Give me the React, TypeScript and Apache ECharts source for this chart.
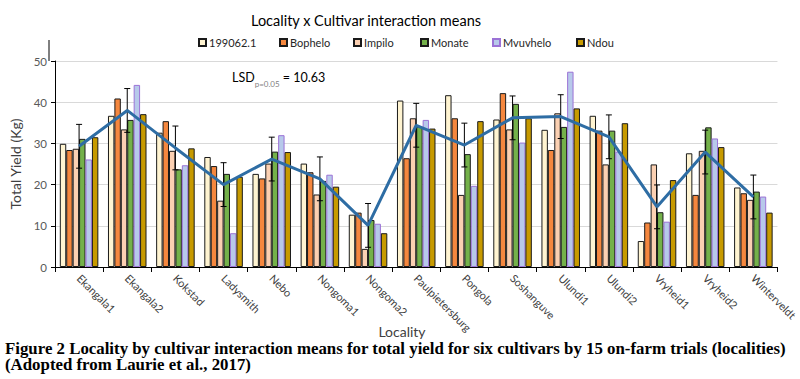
import React, { useEffect, useRef } from 'react';
import * as echarts from 'echarts';

const localities = ['Ekangala1', 'Ekangala2', 'Kokstad', 'Ladysmith', 'Nebo', 'Nongoma1', 'Nongoma2', 'Paulpietersburg', 'Pongola', 'Soshanguve', 'Ulundi1', 'Ulundi2', 'Vryheid1', 'Vryheid2', 'Winterveldt'];
const cultivars = ['199062.1', 'Bophelo', 'Impilo', 'Monate', 'Mvuvhelo', 'Ndou'];
const v199062 = [29.9, 36.7, 32.6, 26.7, 22.6, 25.1, 12.7, 40.4, 41.7, 35.8, 33.3, 36.7, 6.3, 27.6, 19.3];
const bophelo = [28.4, 40.9, 35.4, 24.5, 21.5, 23.0, 13.2, 26.4, 36.1, 42.2, 28.4, 33.1, 10.8, 17.5, 17.9];
const impilo = [28.7, 33.4, 28.2, 16.1, 25.1, 17.6, 4.4, 36.1, 17.5, 33.4, 37.3, 24.9, 24.9, 28.2, 16.3];
const monate = [31.1, 35.7, 23.7, 22.6, 28.0, 20.9, 11.4, 34.1, 27.4, 39.6, 34.0, 33.1, 13.3, 33.9, 18.3];
const mvuvhelo = [26.1, 44.2, 24.7, 8.2, 32.0, 22.4, 10.5, 35.7, 19.7, 30.2, 47.4, 28.0, 11.0, 31.2, 17.1];
const ndou = [31.5, 37.1, 28.8, 21.9, 27.9, 19.5, 8.2, 33.6, 35.4, 36.1, 38.5, 34.9, 21.1, 29.1, 13.2];
const localityMeans = [29.3, 38.0, 28.9, 20.0, 26.2, 21.4, 10.1, 34.4, 29.6, 36.2, 36.5, 31.6, 14.6, 27.9, 17.0];
const lsd = 10.63;
const seriesValues = [v199062, bophelo, impilo, monate, mvuvhelo, ndou];

const fills = ['#FFF4D1', '#F5873E', '#FBD0B2', '#74B14A', '#B7C9EA', '#C79A00'];
const borders = ['#1a1a1a', '#1a1a1a', '#1a1a1a', '#1a1a1a', '#9B72D6', '#1a1a1a'];
const legendLeft = [198, 279, 353, 420, 492, 576];
const FONT = 'Lato';
const captionLines = [
  'Figure 2 Locality by cultivar interaction means for total yield for six cultivars by 15 on-farm trials (localities)',
  '(Adopted from Laurie et al., 2017)',
];

export default function App() {
  const ref = useRef<HTMLDivElement>(null);
  useEffect(() => {
    const chart = echarts.init(ref.current!, null, { renderer: 'svg' });
    const barSeries = cultivars.map((name, k) => ({
      name,
      type: 'bar',
      data: seriesValues[k],
      barGap: '0%',
      barCategoryGap: '20%',
      itemStyle: { color: fills[k], borderColor: borders[k], borderWidth: 1 },
      z: 2,
    }));
    chart.setOption({
      animation: false,
      backgroundColor: '#fff',
      textStyle: { fontFamily: FONT },
      title: {
        text: 'Locality x Cultivar interaction means',
        left: 361,
        top: 8,
        textAlign: 'center',
        textStyle: { fontSize: 14.5, fontWeight: 'normal', color: '#000', fontFamily: FONT },
      },
      legend: cultivars.map((name, k) => ({
        data: [name],
        left: legendLeft[k],
        top: 37,
        icon: 'rect',
        itemWidth: 7,
        itemHeight: 7,
        itemGap: 3,
        padding: 0,
        selectedMode: false,
        textStyle: { fontSize: 11, color: '#262626', fontFamily: FONT, padding: [0, 0, 0, -2] },
      })),
      grid: { left: 49, right: 21, top: 61, bottom: 112, containLabel: false },
      xAxis: {
        type: 'category',
        data: localities,
        axisLine: { lineStyle: { color: '#000', width: 1 } },
        axisTick: { show: true, length: 5, lineStyle: { color: '#000' } },
        axisLabel: { rotate: -45, interval: 0, fontSize: 11, color: '#404040', margin: 9, fontFamily: FONT },
      },
      yAxis: {
        type: 'value',
        min: 0,
        max: 50,
        interval: 10,
        axisLine: { show: true, lineStyle: { color: '#000', width: 1 } },
        axisTick: { show: true, length: 4, lineStyle: { color: '#000' } },
        axisLabel: { fontSize: 11.5, color: '#595959', margin: 8, fontFamily: FONT },
        splitLine: { lineStyle: { color: '#D9D9D9', width: 1 } },
        name: 'Total Yield (Kg)',
        nameLocation: 'middle',
        nameGap: 33,
        nameTextStyle: { fontSize: 14, color: '#404040', fontFamily: FONT },
      },
      series: [
        ...barSeries,
        {
          name: 'LSD',
          type: 'custom',
          data: localityMeans.map((m, i) => [i, m]),
          z: 3,
          renderItem: (params: any, api: any) => {
            const i = api.value(0);
            const m = api.value(1);
            const top = api.coord([i, m + lsd / 2]);
            const bot = api.coord([i, m - lsd / 2]);
            const cap = 3;
            const st = { stroke: '#000', lineWidth: 1 };
            return {
              type: 'group',
              children: [
                { type: 'line', shape: { x1: top[0], y1: top[1], x2: bot[0], y2: bot[1] }, style: st },
                { type: 'line', shape: { x1: top[0] - cap, y1: top[1], x2: top[0] + cap, y2: top[1] }, style: st },
                { type: 'line', shape: { x1: bot[0] - cap, y1: bot[1], x2: bot[0] + cap, y2: bot[1] }, style: st },
              ],
            };
          },
        },
        {
          name: 'Mean',
          type: 'line',
          data: localityMeans,
          symbol: 'none',
          lineStyle: { color: '#2E6DA4', width: 3 },
          itemStyle: { color: '#2E6DA4' },
          z: 4,
        },
      ],
      graphic: [
        { type: 'line', shape: { x1: 49, y1: 40, x2: 49, y2: 61 }, style: { stroke: '#000', lineWidth: 1 } },
        {
          type: 'text',
          x: 402,
          y: 331,
          style: {
            text: 'Locality',
            fontSize: 14,
            fontFamily: FONT,
            fill: '#404040',
            align: 'center',
            verticalAlign: 'middle',
          },
        },
        {
          type: 'text',
          left: 232,
          top: 71,
          style: {
            text: '{a|LSD}{b|p=0.05}{a| = 10.63}',
            rich: {
              a: { fontSize: 12.5, fill: '#000', fontFamily: FONT, lineHeight: 16, verticalAlign: 'bottom' },
              b: { fontSize: 8, fill: '#7f7f7f', fontFamily: FONT, lineHeight: 16, verticalAlign: 'bottom', padding: [0, 0, -4, 0] },
            },
          },
        },
        ...captionLines.map((t, i) => ({
          type: 'text',
          x: 5,
          y: 357 + i * 16,
          scaleX: 1.066,
          style: {
            text: t,
            fontFamily: 'Liberation Serif',
            fontSize: 15.8,
            fontWeight: 'bold',
            fill: '#000',
            verticalAlign: 'bottom',
          },
        })),
      ],
    });
    return () => chart.dispose();
  }, []);
  return <div ref={ref} style={{ position: 'absolute', left: 0, top: 0, width: 800, height: 379 }} />;
}
